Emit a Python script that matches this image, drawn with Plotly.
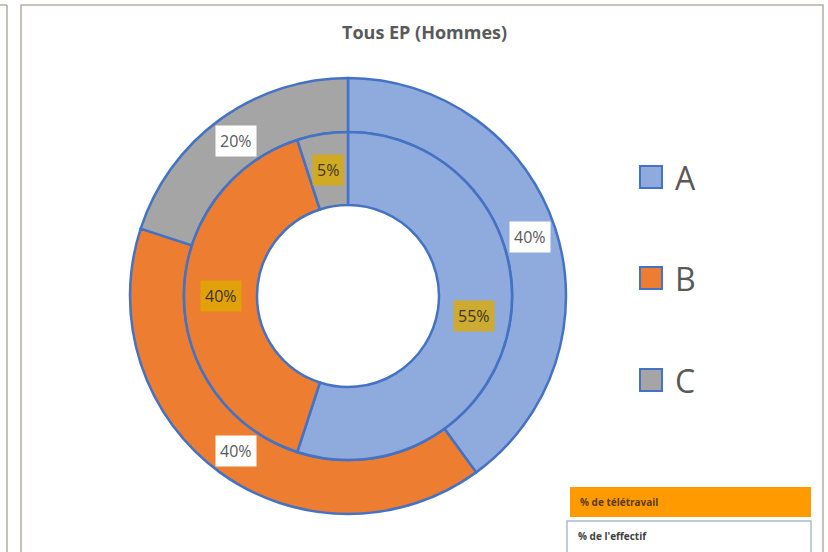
import math
import plotly.graph_objects as go

# ---- data ----
categories = ["A", "B", "C"]
outer_values = [40, 40, 20]   # % de l'effectif
inner_values = [55, 40, 5]    # % de télétravail
colors = ["#8faadc", "#ed7d31", "#a5a5a5"]
title_text = "Tous EP (Hommes)"
box_labels = ["% de télétravail", "% de l'effectif"]

W, H = 828, 552
def px(x):
    return x / W
def py(y):
    return 1 - y / H

cx, cy = 348, 296
R_out, R_mid, R_in = 218, 164, 91
border = "#4472c4"

fig = go.Figure()
fig.add_trace(go.Pie(
    labels=categories, values=outer_values, sort=False, direction="clockwise",
    rotation=0, hole=R_mid / R_out, textinfo="none", hoverinfo="label+percent",
    marker=dict(colors=colors, line=dict(color=border, width=2.5)),
    domain=dict(x=[px(cx - R_out), px(cx + R_out)], y=[py(cy + R_out), py(cy - R_out)]),
    showlegend=False,
))
fig.add_trace(go.Pie(
    labels=categories, values=inner_values, sort=False, direction="clockwise",
    rotation=0, hole=R_in / R_mid, textinfo="none", hoverinfo="label+percent",
    marker=dict(colors=colors, line=dict(color=border, width=2.5)),
    domain=dict(x=[px(cx - R_mid), px(cx + R_mid)], y=[py(cy + R_mid), py(cy - R_mid)]),
    showlegend=False,
))

annotations = []
shapes = []

def ring_labels(values, r, bg, fc):
    total = sum(values)
    cum = 0
    for v in values:
        mid = (cum + v / 2) / total * 2 * math.pi
        cum += v
        x = cx + r * math.sin(mid)
        y = cy - r * math.cos(mid)
        annotations.append(dict(
            x=px(x), y=py(y), xref="paper", yref="paper", showarrow=False,
            xanchor="center", yanchor="middle",
            text=f"{round(v / total * 100)}%", bgcolor=bg, borderpad=4,
            font=dict(family="Open Sans", size=16, color=fc),
        ))

ring_labels(outer_values, (R_out + R_mid) / 2, "white", "#595959")
ring_labels(inner_values, (R_mid + R_in) / 2, "rgba(222,172,0,0.78)", "#3d3520")

# title
annotations.append(dict(
    x=px(424), y=py(32), xref="paper", yref="paper", showarrow=False,
    xanchor="center", yanchor="middle",
    text=f"<b>{title_text}</b>", font=dict(family="Open Sans", size=18, color="#595959"),
))

# custom legend
leg_y = [177, 278, 380]
for cat, col, yy in zip(categories, colors, leg_y):
    shapes.append(dict(type="rect", xref="paper", yref="paper",
                       x0=px(640), x1=px(662), y0=py(yy + 11), y1=py(yy - 11),
                       fillcolor=col, line=dict(color=border, width=2)))
    annotations.append(dict(
        x=px(673), y=py(yy), xref="paper", yref="paper", showarrow=False,
        xanchor="left", yanchor="middle", text=cat,
        font=dict(family="Open Sans", size=32, color="#595959"),
    ))

# bottom boxes
shapes.append(dict(type="rect", xref="paper", yref="paper",
                   x0=px(570), x1=px(811), y0=py(517), y1=py(487),
                   fillcolor="#ff9a00", line=dict(width=0)))
shapes.append(dict(type="rect", xref="paper", yref="paper",
                   x0=px(567), x1=px(811), y0=py(565), y1=py(521),
                   fillcolor="white", line=dict(color="#a9bccc", width=1.5)))
annotations.append(dict(x=px(578), y=py(502), xref="paper", yref="paper", showarrow=False,
                        xanchor="left", yanchor="middle", text=f"<b>{box_labels[0]}</b>",
                        font=dict(family="Open Sans", size=10, color="#5a3a00")))
annotations.append(dict(x=px(576), y=py(536), xref="paper", yref="paper", showarrow=False,
                        xanchor="left", yanchor="middle", text=f"<b>{box_labels[1]}</b>",
                        font=dict(family="Open Sans", size=10, color="#404040")))

# frames
frame_col = "#b5aca5"
shapes.append(dict(type="rect", xref="paper", yref="paper",
                   x0=px(21), x1=px(823), y0=py(565), y1=py(5),
                   fillcolor="rgba(0,0,0,0)", line=dict(color=frame_col, width=1.5)))
shapes.append(dict(type="line", xref="paper", yref="paper",
                   x0=px(7), x1=px(7), y0=py(565), y1=py(5),
                   line=dict(color=frame_col, width=1.5)))
shapes.append(dict(type="line", xref="paper", yref="paper",
                   x0=px(-5), x1=px(7), y0=py(5), y1=py(5),
                   line=dict(color=frame_col, width=1.5)))

fig.update_layout(
    width=W, height=H, margin=dict(l=0, r=0, t=0, b=0),
    paper_bgcolor="white", plot_bgcolor="white",
    annotations=annotations, shapes=shapes, showlegend=False,
)
fig.write_html("out.html", config={"displayModeBar": False},
               post_script="document.body.style.margin='0';document.body.style.overflow='hidden';")
